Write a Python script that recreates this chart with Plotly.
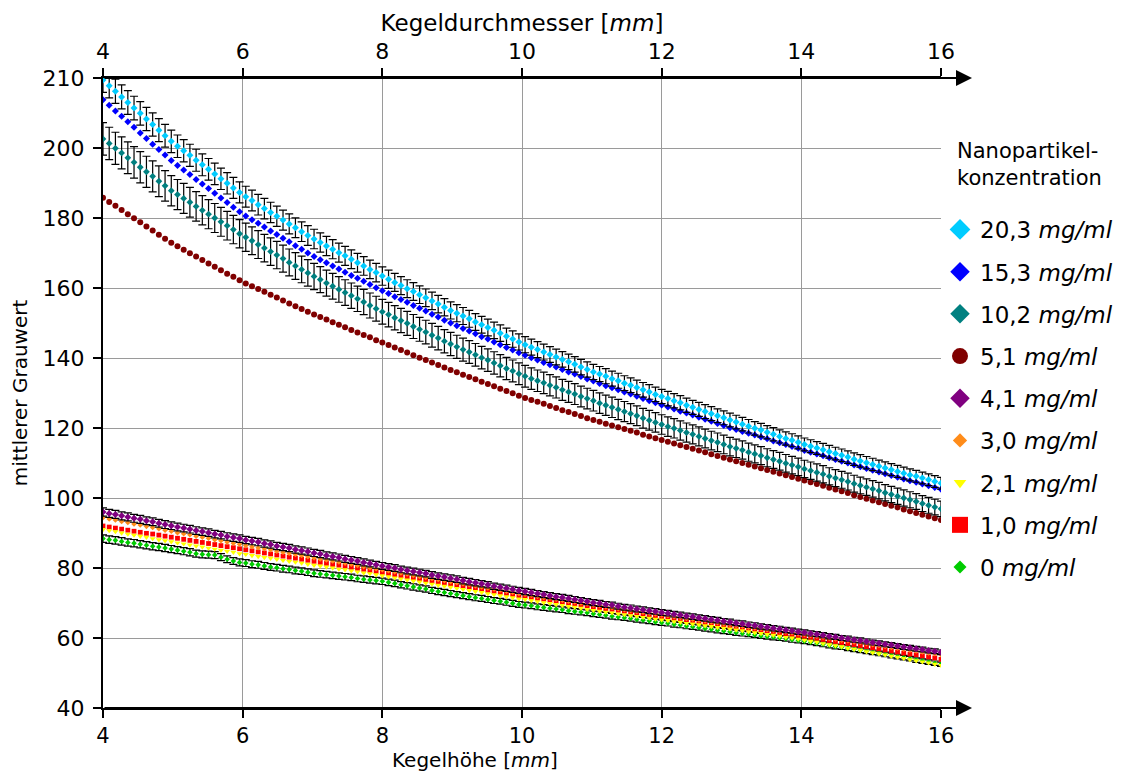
import plotly.graph_objects as go

# Kegelhöhe in mm: 136 Messpositionen zwischen 4 und 16 mm
kegelhoehe = [round(4 + i * 12 / 135, 4) for i in range(136)]

konzentrationen = ["20,3", "15,3", "10,2", "5,1", "4,1", "3,0", "2,1", "1,0", "0"]

grau_20_3 = [
    219.4, 217.8, 216.2, 214.6, 213.0, 211.4, 209.9, 208.3, 206.7, 205.1, 203.5, 201.9,
    200.5, 199.2, 197.9, 196.5, 195.2, 193.9, 192.6, 191.2, 189.9, 188.6, 187.3,
    186.1, 185.0, 183.8, 182.7, 181.6, 180.5, 179.4, 178.3, 177.2, 176.1, 175.0,
    174.0, 173.0, 172.0, 171.1, 170.1, 169.2, 168.2, 167.2, 166.3, 165.3, 164.4,
    163.4, 162.5, 161.6, 160.7, 159.8, 159.0, 158.1, 157.2, 156.3, 155.4, 154.5, 153.6,
    152.8, 152.0, 151.2, 150.3, 149.5, 148.7, 147.9, 147.1, 146.2, 145.4, 144.6,
    143.8, 143.1, 142.4, 141.7, 141.0, 140.3, 139.6, 138.9, 138.2, 137.4, 136.7,
    136.0, 135.4, 134.8, 134.1, 133.5, 132.8, 132.2, 131.6, 130.9, 130.3, 129.6,
    129.0, 128.4, 127.8, 127.2, 126.5, 125.9, 125.3, 124.7, 124.1, 123.5, 122.9, 122.3,
    121.7, 121.1, 120.5, 119.9, 119.4, 118.8, 118.2, 117.6, 117.0, 116.5, 115.9,
    115.3, 114.8, 114.3, 113.8, 113.2, 112.7, 112.2, 111.7, 111.1, 110.6, 110.1,
    109.6, 109.1, 108.6, 108.1, 107.6, 107.1, 106.6, 106.2, 105.7, 105.2, 104.7, 104.2,
]

grau_15_3 = [
    213.8, 212.2, 210.6, 209.1, 207.5, 205.9, 204.3, 202.7, 201.1, 199.6, 198.0, 196.4,
    195.0, 193.7, 192.4, 191.0, 189.7, 188.4, 187.1, 185.7, 184.4, 183.1, 181.8,
    180.6, 179.5, 178.5, 177.4, 176.3, 175.3, 174.2, 173.2, 172.1, 171.1, 170.0,
    169.0, 168.1, 167.2, 166.3, 165.4, 164.5, 163.6, 162.8, 161.9, 161.0, 160.1,
    159.2, 158.4, 157.5, 156.7, 155.9, 155.0, 154.2, 153.4, 152.5, 151.7, 150.8, 150.0,
    149.2, 148.4, 147.7, 146.9, 146.1, 145.4, 144.6, 143.8, 143.0, 142.3, 141.5,
    140.8, 140.1, 139.4, 138.7, 138.1, 137.4, 136.7, 136.0, 135.4, 134.7, 134.0,
    133.4, 132.7, 132.1, 131.5, 130.9, 130.3, 129.7, 129.1, 128.4, 127.8, 127.2,
    126.6, 126.0, 125.4, 124.8, 124.3, 123.7, 123.1, 122.5, 121.9, 121.3, 120.7, 120.1,
    119.6, 119.0, 118.5, 118.0, 117.4, 116.9, 116.3, 115.8, 115.3, 114.7, 114.2,
    113.6, 113.1, 112.6, 112.1, 111.5, 111.0, 110.5, 110.0, 109.4, 108.9, 108.4,
    107.9, 107.4, 106.9, 106.4, 105.9, 105.4, 104.9, 104.5, 104.0, 103.5, 103.0, 102.5,
]

grau_10_2 = [
    202.6, 201.3, 199.9, 198.6, 197.2, 195.9, 194.5, 193.2, 191.9, 190.5, 189.2, 187.8,
    186.7, 185.6, 184.5, 183.3, 182.2, 181.1, 180.0, 178.9, 177.8, 176.7, 175.5,
    174.5, 173.5, 172.4, 171.4, 170.4, 169.4, 168.4, 167.3, 166.3, 165.3, 164.3,
    163.3, 162.4, 161.4, 160.5, 159.6, 158.7, 157.8, 156.9, 156.0, 155.0, 154.1,
    153.2, 152.4, 151.5, 150.7, 149.9, 149.0, 148.2, 147.4, 146.5, 145.7, 144.8, 144.0,
    143.2, 142.4, 141.7, 140.9, 140.1, 139.4, 138.6, 137.8, 137.0, 136.3, 135.5,
    134.8, 134.1, 133.5, 132.9, 132.2, 131.6, 130.9, 130.3, 129.7, 129.0, 128.4,
    127.8, 127.1, 126.5, 125.9, 125.3, 124.7, 124.1, 123.5, 122.8, 122.2, 121.6,
    121.0, 120.4, 119.9, 119.3, 118.7, 118.2, 117.6, 117.0, 116.4, 115.9, 115.3, 114.7,
    114.2, 113.7, 113.1, 112.6, 112.1, 111.5, 111.0, 110.5, 109.9, 109.4, 108.9,
    108.3, 107.8, 107.3, 106.8, 106.2, 105.7, 105.2, 104.7, 104.1, 103.6, 103.1,
    102.6, 102.1, 101.5, 101.0, 100.5, 100.0, 99.5, 99.0, 98.4, 97.9, 97.4, 96.9,
]

grau_5_1 = [
    185.8, 184.6, 183.5, 182.3, 181.1, 179.9, 178.8, 177.6, 176.4, 175.2, 174.1, 172.9,
    171.9, 170.9, 169.9, 169.0, 168.0, 167.0, 166.1, 165.1, 164.1, 163.2, 162.2,
    161.3, 160.5, 159.7, 158.9, 158.1, 157.3, 156.4, 155.6, 154.8, 154.0, 153.2,
    152.4, 151.7, 151.0, 150.2, 149.5, 148.8, 148.0, 147.3, 146.6, 145.9, 145.1,
    144.4, 143.7, 143.0, 142.3, 141.6, 140.8, 140.1, 139.4, 138.7, 138.0, 137.3, 136.6,
    135.9, 135.2, 134.6, 133.9, 133.2, 132.6, 131.9, 131.2, 130.6, 129.9, 129.2,
    128.6, 128.0, 127.5, 126.9, 126.3, 125.7, 125.1, 124.6, 124.0, 123.4, 122.8,
    122.3, 121.8, 121.2, 120.7, 120.2, 119.7, 119.2, 118.7, 118.1, 117.6, 117.1,
    116.6, 116.1, 115.6, 115.1, 114.6, 114.1, 113.6, 113.1, 112.5, 112.0, 111.5, 111.0,
    110.5, 110.0, 109.5, 109.0, 108.5, 108.0, 107.5, 107.0, 106.5, 106.0, 105.5,
    105.0, 104.5, 104.0, 103.5, 102.9, 102.4, 101.9, 101.4, 100.8, 100.3, 99.8,
    99.3, 98.8, 98.3, 97.8, 97.3, 96.7, 96.2, 95.7, 95.2, 94.7, 94.2, 93.7,
]

grau_4_1 = [
    96.0, 95.6, 95.3, 94.9, 94.6, 94.2, 93.9, 93.5, 93.2, 92.8, 92.4, 92.1,
    91.7, 91.4, 91.1, 90.7, 90.4, 90.1, 89.7, 89.4, 89.0, 88.7, 88.4,
    88.0, 87.7, 87.4, 87.0, 86.7, 86.3, 86.0, 85.7, 85.3, 85.0, 84.7,
    84.3, 84.0, 83.6, 83.3, 83.0, 82.6, 82.3, 82.0, 81.6, 81.3, 80.9,
    80.6, 80.3, 80.0, 79.6, 79.3, 79.0, 78.7, 78.4, 78.0, 77.7, 77.4, 77.1,
    76.8, 76.4, 76.1, 75.8, 75.5, 75.2, 74.8, 74.5, 74.2, 73.9, 73.6,
    73.3, 73.0, 72.7, 72.4, 72.1, 71.8, 71.6, 71.3, 71.0, 70.7, 70.4,
    70.1, 69.9, 69.6, 69.4, 69.1, 68.8, 68.6, 68.3, 68.1, 67.8, 67.6,
    67.3, 67.1, 66.8, 66.6, 66.3, 66.1, 65.8, 65.6, 65.3, 65.1, 64.8, 64.6,
    64.3, 64.1, 63.8, 63.6, 63.3, 63.1, 62.8, 62.6, 62.3, 62.1, 61.8,
    61.6, 61.3, 61.1, 60.8, 60.5, 60.3, 60.0, 59.8, 59.5, 59.3, 59.0,
    58.7, 58.5, 58.2, 58.0, 57.7, 57.4, 57.2, 56.9, 56.7, 56.4, 56.2, 55.9,
]

grau_3_0 = [
    94.4, 94.0, 93.7, 93.3, 93.0, 92.6, 92.3, 91.9, 91.6, 91.2, 90.8, 90.5,
    90.1, 89.8, 89.5, 89.1, 88.8, 88.5, 88.1, 87.8, 87.4, 87.1, 86.8,
    86.4, 86.1, 85.8, 85.5, 85.2, 84.8, 84.5, 84.2, 83.9, 83.6, 83.2,
    82.9, 82.6, 82.3, 82.0, 81.7, 81.4, 81.1, 80.7, 80.4, 80.1, 79.8,
    79.5, 79.2, 78.9, 78.6, 78.3, 77.9, 77.6, 77.3, 77.0, 76.7, 76.4, 76.1,
    75.8, 75.5, 75.2, 74.9, 74.6, 74.3, 74.0, 73.7, 73.4, 73.1, 72.7,
    72.5, 72.2, 71.9, 71.6, 71.4, 71.1, 70.8, 70.5, 70.3, 70.0, 69.7,
    69.4, 69.2, 68.9, 68.7, 68.4, 68.1, 67.9, 67.6, 67.4, 67.1, 66.9,
    66.6, 66.4, 66.1, 65.9, 65.6, 65.4, 65.1, 64.9, 64.6, 64.4, 64.1, 63.9,
    63.6, 63.4, 63.1, 62.9, 62.7, 62.4, 62.2, 62.0, 61.7, 61.5, 61.2,
    61.0, 60.7, 60.5, 60.2, 59.9, 59.7, 59.4, 59.2, 58.9, 58.7, 58.4,
    58.1, 57.9, 57.6, 57.3, 57.1, 56.8, 56.5, 56.3, 56.0, 55.7, 55.5, 55.2,
]

grau_2_1 = [
    91.0, 90.7, 90.4, 90.0, 89.7, 89.4, 89.1, 88.8, 88.4, 88.1, 87.8, 87.5,
    87.2, 86.9, 86.6, 86.3, 86.0, 85.7, 85.4, 85.1, 84.8, 84.5, 84.1,
    83.9, 83.6, 83.3, 83.0, 82.8, 82.5, 82.2, 81.9, 81.7, 81.4, 81.1,
    80.8, 80.6, 80.3, 80.0, 79.7, 79.5, 79.2, 78.9, 78.6, 78.4, 78.1,
    77.8, 77.5, 77.2, 76.9, 76.6, 76.3, 76.0, 75.7, 75.4, 75.1, 74.8, 74.5,
    74.2, 73.9, 73.6, 73.3, 73.0, 72.7, 72.4, 72.1, 71.8, 71.5, 71.2,
    71.0, 70.7, 70.4, 70.1, 69.9, 69.6, 69.3, 69.0, 68.8, 68.5, 68.2,
    67.9, 67.7, 67.4, 67.2, 66.9, 66.7, 66.4, 66.2, 65.9, 65.7, 65.4,
    65.2, 65.0, 64.7, 64.5, 64.2, 64.0, 63.8, 63.5, 63.3, 63.0, 62.8, 62.6,
    62.3, 62.1, 61.8, 61.5, 61.3, 61.0, 60.8, 60.5, 60.2, 60.0, 59.7,
    59.4, 59.1, 58.8, 58.4, 58.1, 57.8, 57.5, 57.1, 56.8, 56.5, 56.1,
    55.8, 55.5, 55.2, 54.8, 54.5, 54.2, 53.8, 53.5, 53.2, 52.9, 52.5, 52.2,
]

grau_1_0 = [
    92.0, 91.7, 91.4, 91.1, 90.8, 90.5, 90.2, 89.9, 89.7, 89.4, 89.1, 88.8,
    88.5, 88.2, 87.9, 87.6, 87.3, 87.0, 86.7, 86.4, 86.1, 85.8, 85.5,
    85.2, 84.9, 84.6, 84.3, 84.0, 83.7, 83.4, 83.1, 82.8, 82.5, 82.2,
    81.9, 81.6, 81.3, 81.0, 80.8, 80.5, 80.2, 79.9, 79.6, 79.3, 79.0,
    78.7, 78.4, 78.1, 77.8, 77.5, 77.2, 76.9, 76.6, 76.3, 76.0, 75.7, 75.4,
    75.1, 74.8, 74.5, 74.2, 73.9, 73.6, 73.3, 73.0, 72.7, 72.4, 72.1,
    71.9, 71.6, 71.3, 71.1, 70.8, 70.5, 70.3, 70.0, 69.7, 69.5, 69.2,
    68.9, 68.7, 68.4, 68.2, 67.9, 67.6, 67.4, 67.1, 66.9, 66.6, 66.4,
    66.1, 65.9, 65.6, 65.4, 65.1, 64.9, 64.6, 64.4, 64.1, 63.9, 63.6, 63.4,
    63.1, 62.9, 62.6, 62.4, 62.2, 61.9, 61.7, 61.4, 61.2, 61.0, 60.7,
    60.5, 60.2, 59.9, 59.6, 59.3, 59.0, 58.7, 58.4, 58.1, 57.8, 57.5,
    57.2, 56.9, 56.6, 56.3, 56.0, 55.7, 55.4, 55.2, 54.9, 54.6, 54.3, 53.9,
]

grau_0 = [
    88.4, 88.1, 87.9, 87.6, 87.3, 87.1, 86.8, 86.5, 86.2, 86.0, 85.7, 85.4,
    85.1, 84.8, 84.5, 84.1, 83.9, 83.8, 83.7, 83.1, 82.5, 82.0, 81.6,
    81.4, 81.1, 80.9, 80.6, 80.3, 80.1, 79.8, 79.6, 79.3, 79.1, 78.8,
    78.5, 78.3, 78.1, 77.9, 77.7, 77.5, 77.3, 77.0, 76.8, 76.6, 76.4,
    76.2, 75.9, 75.6, 75.2, 74.9, 74.6, 74.3, 74.0, 73.6, 73.3, 73.0, 72.7,
    72.4, 72.1, 71.8, 71.5, 71.3, 71.0, 70.7, 70.5, 70.2, 69.9, 69.6,
    69.4, 69.2, 68.9, 68.7, 68.5, 68.3, 68.1, 67.8, 67.6, 67.4, 67.2,
    66.9, 66.7, 66.5, 66.2, 66.0, 65.8, 65.6, 65.3, 65.1, 64.9, 64.6,
    64.4, 64.2, 63.9, 63.7, 63.4, 63.2, 63.0, 62.7, 62.5, 62.2, 62.0, 61.8,
    61.5, 61.3, 61.1, 60.9, 60.6, 60.4, 60.2, 60.0, 59.8, 59.5, 59.3,
    59.1, 58.8, 58.5, 58.2, 57.9, 57.6, 57.4, 57.1, 56.8, 56.5, 56.2,
    55.9, 55.6, 55.3, 55.0, 54.7, 54.4, 54.1, 53.7, 53.4, 53.1, 52.8, 52.5,
]

# relative Standardabweichung in Prozent je Konzentration (0 = ohne Fehlerbalken)
fehler_prozent = [1.6, 0, 2.3, 0, 1.2, 0, 0, 0, 1.2]

y_ticks = [40, 60, 80, 100, 120, 140, 160, 180, 200, 220]
y_ticktext = ["40", "60", "80", "100", "120", "140", "160", "180", "200", "210"]
x_ticks = [4, 6, 8, 10, 12, 14, 16]

reihen = [grau_20_3, grau_15_3, grau_10_2, grau_5_1, grau_4_1,
          grau_3_0, grau_2_1, grau_1_0, grau_0]

farben = ["#00CCFF", "#0000FF", "#008080", "#800000", "#800080",
          "#FF8C1A", "#FFFF00", "#FF0000", "#00CC00"]
symbole = ["diamond", "diamond", "diamond", "circle", "diamond",
           "diamond", "triangle-down", "square", "diamond"]
groesse_punkt = [5.4, 5.4, 5.2, 6, 5.4, 4.3, 5.5, 4.8, 4.3]
groesse_legende = [16, 15, 15, 16, 15, 11, 11, 16, 10]

SCHRIFT = "DejaVu Sans"

fig = go.Figure()

# Messreihen: niedrige Konzentrationen zuerst, damit die hohen oben liegen
for k in reversed(range(len(reihen))):
    fehler = dict(visible=False)
    if fehler_prozent[k] > 0:
        fehler = dict(type="percent", value=fehler_prozent[k], color="black",
                      thickness=1.2, width=4)
    fig.add_trace(go.Scatter(
        x=kegelhoehe, y=reihen[k], mode="markers",
        marker=dict(symbol=symbole[k], size=groesse_punkt[k], color=farben[k],
                    line=dict(width=0)),
        error_y=fehler,
        showlegend=False, hoverinfo="skip",
    ))

# Legendeneinträge mit größeren Symbolen
for k in range(len(reihen)):
    fig.add_trace(go.Scatter(
        x=[None], y=[None], mode="markers",
        marker=dict(symbol=symbole[k], size=groesse_legende[k], color=farben[k]),
        name=f"{konzentrationen[k]} <i>mg/ml</i>",
        legendgroup=f"g{k}", showlegend=True,
    ))

# leere Spur für die obere Achse
fig.add_trace(go.Scatter(x=[4, 16], y=[None, None], xaxis="x2", yaxis="y",
                         showlegend=False, hoverinfo="skip", mode="markers"))

achse = dict(
    showline=True, linecolor="black", linewidth=2,
    ticks="outside", ticklen=8, tickwidth=2, tickcolor="black",
    tickfont=dict(family=SCHRIFT, size=22, color="black"),
    zeroline=False, automargin=False,
)

L, R, T, B = 103, 183, 78, 66
W, H = 1124, 774
pw = W - L - R
ph = H - T - B

fig.update_layout(
    width=W, height=H,
    margin=dict(l=L, r=R, t=T, b=B, autoexpand=False),
    paper_bgcolor="white", plot_bgcolor="white",
    font=dict(family=SCHRIFT, size=21, color="black"),
    xaxis=dict(range=[4, 16], tickvals=x_ticks, showgrid=True,
               gridcolor="#9a9a9a", gridwidth=1, ticklabelstandoff=0,
               **{**achse, "tickfont": dict(family=SCHRIFT, size=21, color="black")}),
    xaxis2=dict(range=[4, 16], tickvals=x_ticks, overlaying="x", side="top",
                showgrid=False,
                title=dict(text="Kegeldurchmesser [<i>mm</i>]", standoff=1,
                           font=dict(family=SCHRIFT, size=23)),
                **achse),
    yaxis=dict(range=[40, 220], tickvals=y_ticks, ticktext=y_ticktext,
               showgrid=True, gridcolor="#9a9a9a", gridwidth=1,
               ticklabelstandoff=4,
               title=dict(text="mittlerer Grauwert", standoff=10,
                          font=dict(family=SCHRIFT, size=20)),
               **achse),
    legend=dict(
        x=(940 - L) / pw, y=1 - (208 - T) / ph,
        xanchor="left", yanchor="top",
        font=dict(family=SCHRIFT, size=23, color="black"),
        traceorder="grouped", tracegroupgap=9.3,
        itemsizing="trace", bgcolor="rgba(0,0,0,0)",
    ),
    showlegend=True,
)

# Beschriftung der unteren Achse (etwas links der Mitte)
fig.add_annotation(
    x=(475 - L) / pw, y=-(760 - T - ph) / ph, xref="paper", yref="paper",
    xanchor="center", yanchor="middle", showarrow=False,
    text="Kegelhöhe [<i>mm</i>]", borderpad=0,
    font=dict(family=SCHRIFT, size=20, color="black"),
)

# Überschrift der Legende
fig.add_annotation(
    x=(955 - L) / pw, y=1 - (164.5 - T) / ph, xref="paper", yref="paper",
    xanchor="left", yanchor="middle", align="left", showarrow=False,
    text="Nanopartikel-<br>konzentration",
    font=dict(family=SCHRIFT, size=21, color="black"),
)

# Achsenpfeile unten und oben
for yp in (0, 1):
    fig.add_annotation(
        x=(972 - L) / pw, y=yp, xref="paper", yref="paper",
        ax=-(972 - L), ay=0, axref="pixel", ayref="pixel",
        text="", showarrow=True, arrowhead=2, arrowsize=1.6,
        arrowwidth=2, arrowcolor="black", standoff=0, startstandoff=0,
    )

fig.write_html("out.html")
